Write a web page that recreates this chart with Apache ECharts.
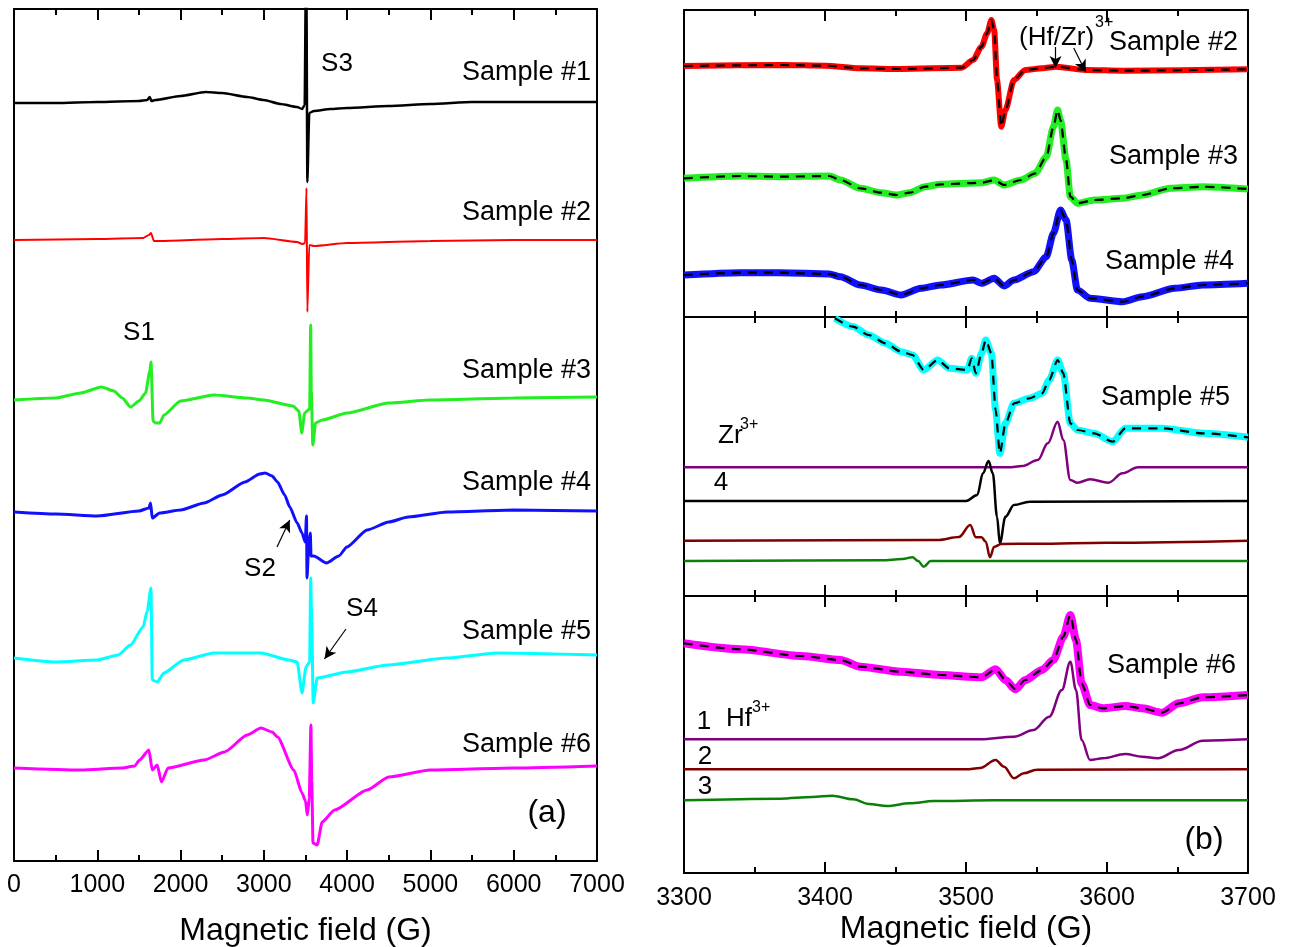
<!DOCTYPE html>
<html><head><meta charset="utf-8">
<script src="https://cdn.jsdelivr.net/npm/echarts@6/dist/echarts.min.js"></script>
<style>html,body{margin:0;padding:0;background:#fff}#c{width:1290px;height:947px}</style>
</head><body><div id="c"></div>
<script>
// ---------- Panel (a): full-range spectra (field G, intensity a.u. with offset) ----------
const fieldTicksA = [0, 1000, 2000, 3000, 4000, 5000, 6000, 7000];
const sample1 = [[0,758],[500,758],[1000,759],[1500,760],[1600,761],[1630,764],[1650,760],[1700,761],[2000,765],[2300,769],[2500,768],[2800,764],[3000,761],[3200,757],[3400,754],[3460,752],[3490,756],[3502,860],[3512,860],[3522,679],[3545,748],[3600,750],[3800,752],[4000,753],[4500,755],[5000,757],[5500,759],[6000,759],[7000,759]];
const sample2 = [[0,621],[1000,622],[1550,623],[1620,626],[1645,628],[1680,620],[1750,620],[2500,622],[3000,623],[3400,619],[3460,617],[3495,618],[3512,673],[3522,549],[3545,616],[3600,615],[4000,618],[5000,620],[6000,621],[7000,621]];
const sample3 = [[0,461],[500,463],[800,468],[1050,474],[1200,470],[1300,463],[1400,454],[1500,460],[1580,468],[1630,490],[1645,499],[1670,440],[1700,438],[1750,438],[1800,446],[2000,460],[2400,466],[2800,463],[3000,461],[3350,455],[3420,450],[3455,428],[3490,448],[3550,452],[3562,536],[3570,470],[3588,416],[3620,438],[3700,441],[4000,448],[4500,458],[5000,461],[6000,463],[7000,464]];
const sample4 = [[0,349],[500,347],[1000,345],[1500,350],[1620,353],[1640,358],[1660,343],[1750,348],[2000,351],[2283,358],[2500,366],[2773,379],[2950,387],[3016,388],[3100,385],[3164,379],[3250,366],[3311,354],[3400,338],[3458,328],[3497,319],[3512,345],[3518,283],[3540,318],[3558,328],[3566,305],[3600,305],[3752,298],[3900,305],[3997,314],[4240,331],[4500,339],[4733,344],[5200,349],[6000,351],[7000,350]];
const sample5 = [[0,203],[500,199],[1000,201],[1250,206],[1400,216],[1550,234],[1600,250],[1645,273],[1660,181],[1720,179],[1800,188],[2037,201],[2400,208],[2966,208],[3300,201],[3400,199],[3458,168],[3506,194],[3550,199],[3562,283],[3575,240],[3592,158],[3640,183],[3997,189],[4488,196],[5200,203],[5800,208],[7000,206]];
const sample6 = [[0,93],[800,91],[1300,93],[1449,95],[1507,101],[1620,111],[1660,91],[1720,96],[1770,79],[1850,93],[2283,101],[2528,109],[2800,126],[2966,133],[3100,129],[3164,124],[3360,91],[3458,68],[3500,60],[3522,46],[3545,63],[3565,136],[3575,80],[3590,18],[3640,16],[3700,39],[3850,51],[4240,71],[4500,84],[5000,91],[6000,93],[7000,95]];

// ---------- Panel (b): zoomed spectra with fits and components ----------
const fieldTicksB = [3300, 3400, 3500, 3600, 3700];
const b2Data = [[3300,251],[3370,252],[3400,251.3],[3425,248.7],[3454,248],[3497,249.3],[3505,257],[3511,270.3],[3515,283.7],[3518,297],[3520,287],[3522,237],[3525,190.3],[3528,207],[3534,237],[3542,247],[3554,248.7],[3564,250.3],[3585,247],[3611,246.3],[3700,247.7]];
const b3Data = [[3300,138.7],[3340,141],[3368,140.3],[3403,141],[3411,137],[3425,128.7],[3440,124.3],[3451,122],[3460,124.3],[3471,130.3],[3482,132.7],[3511,134.3],[3520,137],[3527,132],[3539,137],[3549,143.7],[3557,160.3],[3562,190.3],[3565,207],[3567,197],[3571,157],[3574,120.3],[3579,113.7],[3591,117],[3611,118.7],[3625,122],[3645,128.7],[3668,130.3],[3700,128]];
const b4Data = [[3300,42],[3340,44.3],[3368,44.3],[3403,43],[3411,40.3],[3425,32],[3440,27],[3454,22],[3468,28.7],[3482,32],[3505,37],[3511,33.7],[3520,38.7],[3527,31],[3534,37],[3548,45.3],[3557,60.3],[3562,83.7],[3567,107],[3571,97],[3575,57],[3579,27],[3588,18.7],[3611,15.3],[3625,20.3],[3648,28.7],[3668,32],[3700,33.7]];
const b5Data = [[3407,277.7],[3420,269.3],[3431,261],[3443,252.7],[3454,244.3],[3462,241],[3470,226],[3480,236],[3488,227.7],[3501,226],[3504,237.7],[3507,222.7],[3511,242.7],[3514,256],[3518,242.7],[3521,186],[3524,142.7],[3528,172.7],[3534,192.7],[3545,197.7],[3554,202.7],[3559,216],[3565,236],[3569,222.7],[3574,172.7],[3579,166],[3591,162.7],[3604,154.3],[3613,167.7],[3639,167.7],[3668,162.7],[3700,158.7]];
const zrComp = [[3300,128.7],[3530,128.7],[3540,130],[3551,136],[3558,152.7],[3565,174.3],[3569,156],[3574,116],[3579,113.3],[3588,116.7],[3601,113.3],[3611,122.7],[3622,128.7],[3700,128.7]];
const comp4 = [[3300,95],[3500,95],[3508,101],[3512,122.7],[3516,135],[3519,122.7],[3522,79.3],[3524,52.7],[3528,79.3],[3534,91],[3545,94.3],[3700,95]];
const comp5Brown = [[3300,55.3],[3480,56],[3495,59],[3503,71],[3507,58.7],[3511,58.7],[3514,54.3],[3517,38.7],[3520,49.3],[3525,52],[3550,52.3],[3600,53.3],[3700,55.3]];
const comp5Green = [[3300,35],[3440,35.7],[3455,37],[3462,38.7],[3466,35],[3470,29.3],[3475,35],[3700,35]];
const b6Data = [[3300,229.7],[3340,223.7],[3383,217],[3411,213],[3425,206.3],[3454,201.3],[3482,198],[3511,195.7],[3521,203.7],[3528,193],[3535,183.7],[3542,193],[3554,203],[3562,213],[3569,236.3],[3574,258],[3578,233],[3582,189.7],[3588,168],[3597,164.7],[3613,167],[3625,164.7],[3639,160.3],[3651,169.7],[3668,175.7],[3700,178]];
const hfComp1 = [[3300,133.7],[3510,133.7],[3534,136.3],[3548,143],[3559,156.3],[3568,183],[3574,211.3],[3578,183],[3582,133],[3588,113],[3597,114.7],[3613,119],[3625,116.3],[3636,114.7],[3651,123],[3668,132.3],[3700,133.7]];
const comp2 = [[3300,103.7],[3500,103.7],[3510,105],[3521,113],[3527,106.3],[3534,94.7],[3541,99.7],[3550,103.3],[3700,103.7]];
const comp3 = [[3300,72.7],[3368,74.3],[3391,76],[3405,77.3],[3420,73.7],[3431,69],[3444,67],[3460,69.7],[3477,72],[3520,72.7],[3700,72.7]];

const FONT = "'Liberation Sans', Arial, sans-serif";
const chart = echarts.init(document.getElementById('c'), null, {renderer: 'canvas'});

const grids = [
  {left: 14, top: 9, width: 583, height: 852},
  {left: 684, top: 10, width: 564, height: 307},
  {left: 684, top: 317, width: 564, height: 279},
  {left: 684, top: 596, width: 564, height: 277}
].map(g => Object.assign(g, {show: false, containLabel: false, outerBoundsMode: 'none'}));

function xAx(gi, pos, min, max, interval, labels) {
  return {
    type: 'value', gridIndex: gi, position: pos, min: min, max: max, interval: interval,
    axisLine: {show: true, onZero: false, lineStyle: {color: '#000', width: 2}},
    axisTick: {show: true, inside: true, length: 11, lineStyle: {color: '#000', width: 2}},
    minorTick: {show: true, splitNumber: 2, length: 6, lineStyle: {color: '#000', width: 2}},
    splitLine: {show: false}, minorSplitLine: {show: false},
    axisLabel: {show: labels, color: '#000', fontSize: 25, fontFamily: FONT,
      margin: gi === 0 ? 12 : 13, formatter: v => String(v)},
    name: labels ? 'Magnetic field (G)' : '', nameLocation: 'middle',
    nameGap: gi === 0 ? 54 : 40,
    nameTextStyle: {color: '#000', fontSize: 32, fontFamily: FONT}
  };
}
const xAxes = [
  xAx(0, 'bottom', fieldTicksA[0], fieldTicksA[fieldTicksA.length - 1], 1000, true),
  xAx(0, 'top', fieldTicksA[0], fieldTicksA[fieldTicksA.length - 1], 1000, false),
  xAx(1, 'bottom', fieldTicksB[0], fieldTicksB[fieldTicksB.length - 1], 100, false),
  xAx(1, 'top', fieldTicksB[0], fieldTicksB[fieldTicksB.length - 1], 100, false),
  xAx(2, 'bottom', fieldTicksB[0], fieldTicksB[fieldTicksB.length - 1], 100, false),
  xAx(2, 'top', fieldTicksB[0], fieldTicksB[fieldTicksB.length - 1], 100, false),
  xAx(3, 'bottom', fieldTicksB[0], fieldTicksB[fieldTicksB.length - 1], 100, true),
  xAx(3, 'top', fieldTicksB[0], fieldTicksB[fieldTicksB.length - 1], 100, false)
];
const yMax = [852, 307, 279, 277];
const yAxes = [];
yMax.forEach((m, i) => {
  ['left', 'right'].forEach(pos => yAxes.push({
    type: 'value', gridIndex: i, position: pos, min: 0, max: m,
    axisLine: {show: true, onZero: false, lineStyle: {color: '#000', width: 2}},
    axisTick: {show: false}, axisLabel: {show: false}, splitLine: {show: false}
  }));
});

function line(name, data, xi, gi, color, width, extra) {
  return Object.assign({
    name: name, type: 'line', data: data, xAxisIndex: xi, yAxisIndex: 2 * gi,
    showSymbol: false, symbol: 'none', clip: true, silent: true,
    lineStyle: {color: color, width: width}, z: 2
  }, extra || {});
}
const soft = {smooth: 0.2, smoothMonotone: 'x'};
const dashed = (name, data, xi, gi) => line(name, data, xi, gi, '#000', 2.2,
  {lineStyle: {color: '#000', width: 2.2, type: [9, 7]}, z: 4, smooth: 0.25, smoothMonotone: 'x'});
const comp = () => ({smooth: 0.35, smoothMonotone: 'x'});
const arrowStyle = {silent: true, symbol: ['none', 'arrow'], symbolSize: [9, 12], animation: false,
  label: {show: false}, lineStyle: {color: '#000', width: 1.2, type: 'solid'}};
function arrows(pairs) {
  return Object.assign({}, arrowStyle, {data: pairs.map(p => [{coord: p[0]}, {coord: p[1]}])});
}

const series = [
  line('Sample #1', sample1, 0, 0, '#000000', 2.5, soft),
  line('Sample #2', sample2, 0, 0, '#ff0000', 2, soft),
  line('Sample #3', sample3, 0, 0, '#22ee22', 3, soft),
  line('Sample #4', sample4, 0, 0, '#1010ff', 3, Object.assign({markLine: arrows([[[3158, 314], [3311, 341]]])}, soft)),
  line('Sample #5', sample5, 0, 0, '#00ffff', 3, Object.assign({markLine: arrows([[[3986, 232], [3728, 202]]])}, soft)),
  line('Sample #6', sample6, 0, 0, '#ff00ff', 3, soft),

  line('b Sample #2', b2Data, 2, 1, '#ff0000', 6, {smooth: 0.25, smoothMonotone: 'x',
    markLine: arrows([[[3563.5, 270], [3563.5, 249]], [[3576.4, 269], [3584.9, 245]]])}),
  dashed('b Sample #2 fit', b2Data, 2, 1),
  line('b Sample #3', b3Data, 2, 1, '#22ee22', 7, {smooth: 0.25, smoothMonotone: 'x'}),
  dashed('b Sample #3 fit', b3Data, 2, 1),
  line('b Sample #4', b4Data, 2, 1, '#1010ff', 7, {smooth: 0.25, smoothMonotone: 'x'}),
  dashed('b Sample #4 fit', b4Data, 2, 1),

  line('b Sample #5', b5Data, 4, 2, '#00ffff', 7, {smooth: 0.25, smoothMonotone: 'x'}),
  dashed('b Sample #5 fit', b5Data, 4, 2),
  line('Zr3+ comp', zrComp, 4, 2, '#800080', 2.5, comp()),
  line('comp 4', comp4, 4, 2, '#000000', 2.5, comp()),
  line('comp brown', comp5Brown, 4, 2, '#800000', 2.5, comp()),
  line('comp green', comp5Green, 4, 2, '#0a800a', 2.5, comp()),

  line('b Sample #6', b6Data, 6, 3, '#ff00ff', 8, {smooth: 0.25, smoothMonotone: 'x'}),
  dashed('b Sample #6 fit', b6Data, 6, 3),
  line('Hf3+ comp 1', hfComp1, 6, 3, '#800080', 2.5, comp()),
  line('comp 2', comp2, 6, 3, '#800000', 2.5, comp()),
  line('comp 3', comp3, 6, 3, '#0a800a', 2.5, comp())
];

function txt(s, x, y, align, size) {
  return {type: 'text', x: x, y: y, silent: true, z: 10,
    style: {text: s, fill: '#000', font: (size || 26) + 'px ' + FONT,
      align: align || 'center', verticalAlign: 'middle', textAlign: align || 'center'}};
}
const graphic = [
  txt('S3', 337, 64), txt('Sample #1', 591, 73, 'right', 27), txt('Sample #2', 591, 213, 'right', 27),
  txt('S1', 139, 333), txt('Sample #3', 591, 371, 'right', 27), txt('Sample #4', 591, 483, 'right', 27),
  txt('S2', 260, 569), txt('S4', 362, 609), txt('Sample #5', 591, 632, 'right', 27),
  txt('Sample #6', 591, 745, 'right', 27), txt('(a)', 547, 813, 'center', 32),
  txt('(Hf/Zr)', 1019, 38, 'left'), txt('3+', 1095, 23, 'left', 16),
  txt('Sample #2', 1238, 43, 'right', 27), txt('Sample #3', 1238, 157, 'right', 27),
  txt('Sample #4', 1234, 262, 'right', 27), txt('Sample #5', 1230, 398, 'right', 27),
  txt('Zr', 718, 436, 'left'), txt('3+', 740, 425, 'left', 16), txt('4', 721, 483),
  txt('Sample #6', 1236, 666, 'right', 27), txt('1', 704, 722), txt('Hf', 726, 719, 'left'),
  txt('3+', 752, 708, 'left', 16), txt('2', 705, 757), txt('3', 705, 787),
  txt('(b)', 1204, 840, 'center', 32)
];

chart.setOption({
  animation: false,
  backgroundColor: '#fff',
  grid: grids, xAxis: xAxes, yAxis: yAxes, series: series, graphic: graphic
});
</script></body></html>
